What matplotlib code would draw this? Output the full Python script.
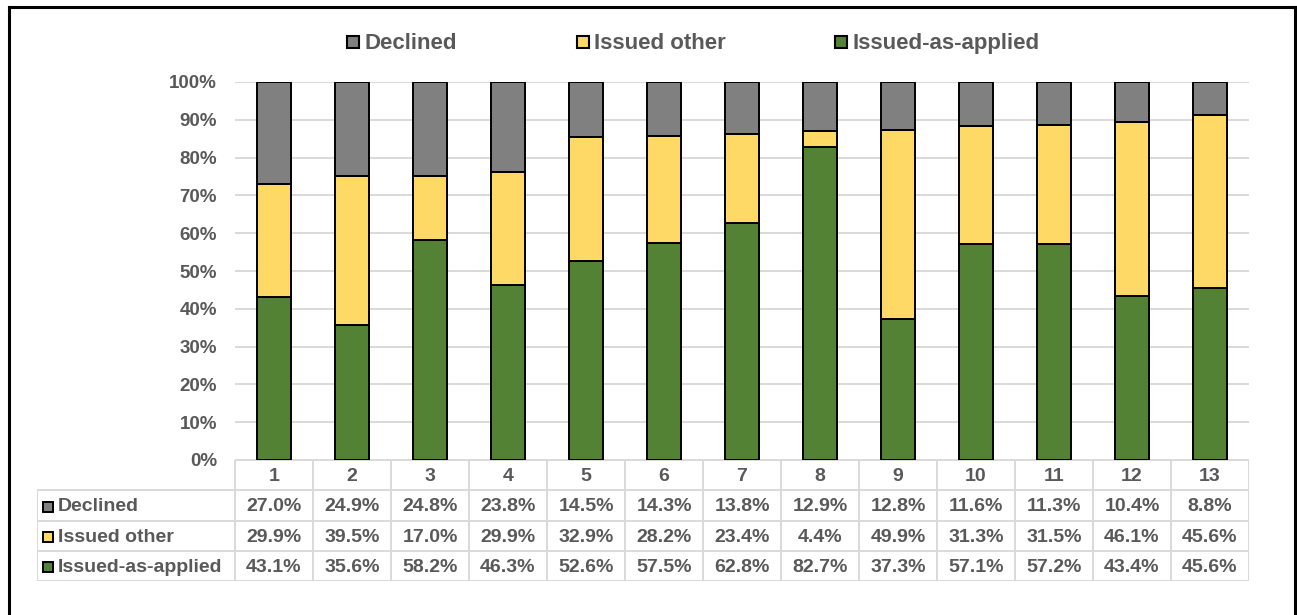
import matplotlib
matplotlib.use("Agg")
import matplotlib.pyplot as plt
from matplotlib.patches import Rectangle
import numpy as np

plt.rcParams["font.family"] = ["Liberation Sans", "DejaVu Sans"]

groups = [str(i) for i in range(1, 14)]
declined = [27.0, 24.9, 24.8, 23.8, 14.5, 14.3, 13.8, 12.9, 12.8, 11.6, 11.3, 10.4, 8.8]
issued_other = [29.9, 39.5, 17.0, 29.9, 32.9, 28.2, 23.4, 4.4, 49.9, 31.3, 31.5, 46.1, 45.6]
issued_as_applied = [43.1, 35.6, 58.2, 46.3, 52.6, 57.5, 62.8, 82.7, 37.3, 57.1, 57.2, 43.4, 45.6]

series_names = ["Declined", "Issued other", "Issued-as-applied"]
series_colors = ["#808080", "#FFD966", "#548235"]

TEXT = "#595959"
GRID = "#d9d9d9"
W, H = 1297, 615

fig = plt.figure(figsize=(W / 100, H / 100), dpi=100)


def px_box(x0, y0, x1, y1):
    return [x0 / W, 1 - y1 / H, (x1 - x0) / W, (y1 - y0) / H]


# --- stacked bars ---
ax = fig.add_axes(px_box(235, 82, 1249, 460))
x = np.arange(len(groups))
green = np.array(issued_as_applied)
yellow = np.array(issued_other)
gray = np.array(declined)
bar_kw = dict(width=0.43, edgecolor="black", linewidth=1.4, zorder=3)
ax.bar(x, green, color=series_colors[2], **bar_kw)
ax.bar(x, yellow, bottom=green, color=series_colors[1], **bar_kw)
ax.bar(x, gray, bottom=green + yellow, color=series_colors[0], **bar_kw)

ax.set_xlim(-0.5, len(groups) - 0.5)
ax.set_ylim(0, 100)
ax.set_yticks(np.arange(0, 101, 10))
ax.set_yticklabels([f"{v}%" for v in range(0, 101, 10)])
ax.tick_params(axis="y", length=0, pad=13, labelsize=13.5, labelcolor=TEXT)
for lab in ax.get_yticklabels():
    lab.set_fontweight("bold")
ax.set_xticks([])
ax.grid(axis="y", color=GRID, linewidth=1.4, zorder=0)
for s in ax.spines.values():
    s.set_visible(False)

# --- data table below the bars ---
label_w = (235 - 37) * len(groups) / (1249 - 235)
tx = fig.add_axes(px_box(37, 460, 1249, 581))
tx.set_xlim(-0.5 - label_w, len(groups) - 0.5)
tx.set_ylim(4, 0)
tx.axis("off")
left = -0.5 - label_w
right = len(groups) - 0.5
line_kw = dict(color=GRID, linewidth=1.4, solid_capstyle="butt")
tx.plot([-0.5, right], [0, 0], **line_kw)
for r in range(1, 5):
    tx.plot([left, right], [r, r], **line_kw)
for c in range(len(groups) + 1):
    tx.plot([c - 0.5, c - 0.5], [0, 4], **line_kw)
tx.plot([left, left], [1, 4], **line_kw)

cell_kw = dict(ha="center", va="center", fontsize=14, fontweight="bold", color=TEXT)
for i, g in enumerate(groups):
    tx.text(i, 0.53, g, **cell_kw)

rows = [declined, issued_other, issued_as_applied]
for r, (name, color, vals) in enumerate(zip(series_names, series_colors, rows), start=1):
    tx.plot(left + 0.14, r + 0.54, marker="s", markersize=7.5, color=color,
            markeredgecolor="black", markeredgewidth=1.4)
    tx.text(left + 0.27, r + 0.55, name, ha="left", va="center",
            fontsize=14, fontweight="bold", color=TEXT)
    for i, v in enumerate(vals):
        tx.text(i, r + 0.55, f"{v:.1f}%", **cell_kw)

# --- legend and outer frame, in pixel coordinates ---
ov = fig.add_axes([0, 0, 1, 1])
ov.set_xlim(0, W)
ov.set_ylim(H, 0)
ov.axis("off")
ov.patch.set_alpha(0)
legend_at = [347, 577, 835]
for name, color, x0 in zip(series_names, series_colors, legend_at):
    ov.add_patch(Rectangle((x0, 36), 12, 12, facecolor=color,
                           edgecolor="black", linewidth=1.5))
    ov.text(x0 + 17, 49, name, ha="left", va="baseline", fontsize=16,
            fontweight="bold", color=TEXT)

frame_kw = dict(color="black", linewidth=2.2, solid_capstyle="projecting")
ov.plot([9, 9], [7, H + 5], **frame_kw)
ov.plot([9, 1295], [7, 7], **frame_kw)
ov.plot([1295, 1295], [7, H + 5], **frame_kw)

fig.savefig("out.png", dpi=100)
